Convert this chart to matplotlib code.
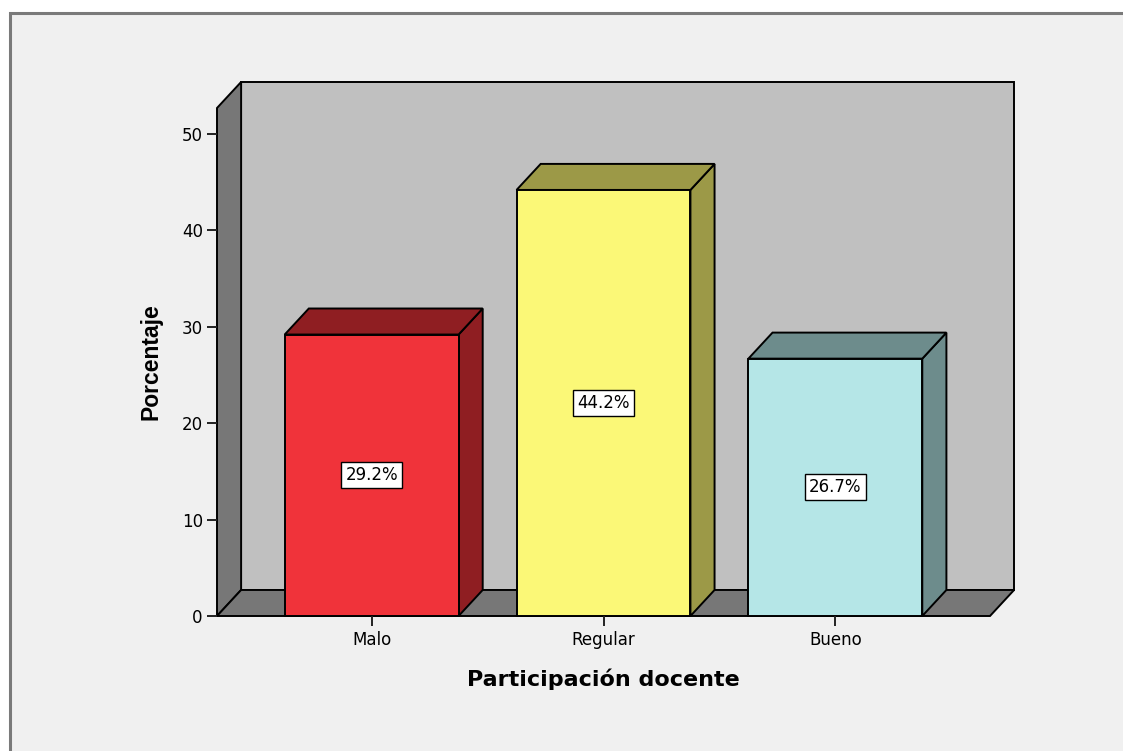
import matplotlib
matplotlib.use("Agg")
import matplotlib.pyplot as plt
from matplotlib.patches import Polygon, Rectangle

# ----------- DATA -----------

categorias = ["Malo", "Regular", "Bueno"]
porcentajes = [29.2, 44.2, 26.7]
etiquetas = ["29.2%", "44.2%", "26.7%"]

color_frente = ["#f0333a", "#fbf877", "#b5e6e7"]
color_lado = ["#8f1e22", "#9c9947", "#6d8c8c"]

# ----------- 3D STYLE -----------

ANCHO = 0.75          # bar width in category units
DX, DY = 0.104, 2.7   # depth offset (x in categories, y in percent)
X0, X1 = -0.667, 2.667
YMAX = 52.7
EDGE = dict(edgecolor="black", linewidth=1.4, joinstyle="miter")


def poly(ax, pts, color):
    ax.add_patch(Polygon(pts, closed=True, facecolor=color, clip_on=False, **EDGE))


fig = plt.figure(figsize=(11.23, 7.51), dpi=100, facecolor="white")

# grey panel with frame
fig.patches.append(Rectangle((10 / 1123, -0.1), 1.2, (751 - 13) / 751 + 0.1,
                             transform=fig.transFigure, facecolor="#f0f0f0",
                             edgecolor="#7a7a7a", linewidth=2.2, zorder=-10))

ax = fig.add_axes([217 / 1123, (751 - 616) / 751, 773 / 1123, 508 / 751])
ax.set_facecolor("none")
ax.set_xlim(X0, X1)
ax.set_ylim(0, YMAX)
for s in ax.spines.values():
    s.set_visible(False)

# back wall, left wall, floor
poly(ax, [(X0 + DX, DY), (X1 + DX, DY), (X1 + DX, YMAX + DY), (X0 + DX, YMAX + DY)], "#c0c0c0")
poly(ax, [(X0, 0), (X0 + DX, DY), (X0 + DX, YMAX + DY), (X0, YMAX)], "#777777")
poly(ax, [(X0, 0), (X1, 0), (X1 + DX, DY), (X0 + DX, DY)], "#777777")

# bars
for i, h in enumerate(porcentajes):
    a, b = i - ANCHO / 2, i + ANCHO / 2
    poly(ax, [(b, 0), (b + DX, DY), (b + DX, h + DY), (b, h)], color_lado[i])
    poly(ax, [(a, h), (b, h), (b + DX, h + DY), (a + DX, h + DY)], color_lado[i])
    poly(ax, [(a, 0), (b, 0), (b, h), (a, h)], color_frente[i])
    ax.text(i, h / 2, etiquetas[i], ha="center", va="center", fontsize=12,
            family="DejaVu Sans", color="black",
            bbox=dict(boxstyle="square,pad=0.25", facecolor="white",
                      edgecolor="black", linewidth=1.0))

ax.set_xticks(range(len(categorias)))
ax.set_xticklabels(categorias)
ax.set_yticks(range(0, 51, 10))
ax.tick_params(axis="both", colors="#222222", labelcolor="black", width=1.4,
               length=7.2, labelsize=12)
ax.tick_params(axis="x", pad=3.5)
ax.tick_params(axis="y", pad=3)

ax.set_xlabel("Participación docente", fontsize=16, fontweight="bold",
              family="DejaVu Sans", labelpad=14)
ax.set_ylabel("Porcentaje", fontsize=16.5, fontweight="bold",
              family="Liberation Sans", labelpad=14)

fig.savefig("out.png", dpi=100, facecolor=fig.get_facecolor())
